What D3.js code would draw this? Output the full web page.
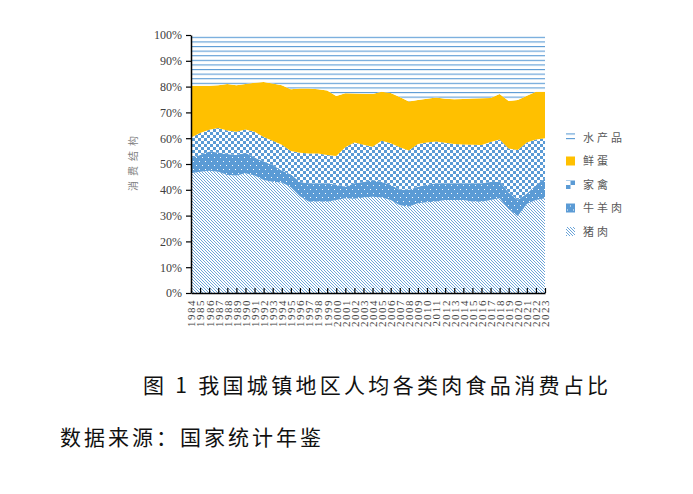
<!DOCTYPE html>
<html><head><meta charset="utf-8">
<script src="https://cdn.jsdelivr.net/npm/d3@7"></script>
<style>
html,body{margin:0;padding:0;background:#fff;}
svg{display:block;}
</style></head>
<body>
<svg id="chart" width="693" height="494"></svg>
<script>
// ---- data (shares, %) ----
const years = d3.range(1984, 2024);
const seriesKeys = ["猪肉", "牛羊肉", "家禽", "鲜蛋", "水产品"];
const pork    = [46.4,47.0,47.4,47.0,45.7,45.5,46.4,45.5,43.8,43.1,42.8,41.0,37.5,35.4,35.5,35.4,36.0,36.7,36.5,37.0,37.3,37.0,36.0,34.0,33.5,34.8,35.2,35.5,36.0,36.0,36.0,35.5,35.4,36.0,36.7,32.5,29.8,34.5,36.0,36.7];
const beef    = [5.9,6.5,7.4,7.5,8.2,8.0,8.0,7.0,7.2,6.5,4.7,5.0,5.5,7.1,7.0,7.1,6.0,4.5,6.0,6.0,6.5,6.0,6.0,6.0,6.5,6.4,6.8,7.0,6.5,6.5,6.5,7.0,7.1,7.0,6.4,6.5,6.2,4.1,5.9,7.7];
const poultry = [8.0,8.5,8.5,9.5,9.1,9.0,9.0,10.0,9.5,9.4,10.0,9.0,11.4,11.6,11.6,11.0,11.1,15.3,15.8,14.5,12.9,16.0,16.0,16.5,15.2,16.6,16.3,16.2,15.7,15.3,15.1,15.0,14.9,15.5,16.4,17.0,19.4,19.7,17.6,15.6];
const eggs    = [20.0,18.3,17.0,16.5,18.0,18.0,17.6,19.0,21.3,22.2,23.0,24.0,24.9,25.2,24.9,25.0,23.3,20.9,19.0,19.7,20.4,19.0,19.5,19.5,19.0,17.0,17.0,17.1,17.1,17.3,17.6,17.9,18.1,17.1,17.6,18.4,19.4,18.2,18.5,18.0];
const aquatic = [19.7,19.7,19.7,19.5,19.0,19.5,19.0,18.5,18.2,18.8,19.5,21.0,20.7,20.7,21.0,21.5,23.6,22.6,22.7,22.8,22.9,22.0,22.5,24.0,25.8,25.2,24.7,24.2,24.7,24.9,24.8,24.6,24.5,24.4,22.9,25.6,25.2,23.5,22.0,22.0];
const yTicks = d3.range(0, 11).map(d => d / 10);
const legendOrder = ["水产品", "鲜蛋", "家禽", "牛羊肉", "猪肉"];
const titleText = "图 1  我国城镇地区人均各类肉食品消费占比";
const sourceText = "数据来源：国家统计年鉴";
const yTitle = "消费结构";

const table = years.map((y, i) => ({
  year: y, "猪肉": pork[i], "牛羊肉": beef[i], "家禽": poultry[i], "鲜蛋": eggs[i], "水产品": aquatic[i]
}));

const BLUE = "#5b9bd5", ORANGE = "#ffc000";
const svg = d3.select("#chart");
const defs = svg.append("defs");

// pork: diagonal hatch
const pPork = defs.append("pattern").attr("id", "p-pork").attr("patternUnits", "userSpaceOnUse")
  .attr("width", 3).attr("height", 3);
pPork.append("rect").attr("width", 3).attr("height", 3).attr("fill", "#fff");
pPork.append("path").attr("d", "M-1,-1L4,4M2,-1L4,1M-1,2L1,4").attr("stroke", BLUE).attr("stroke-width", 0.9);

// beef: solid with white dots
const pBeef = defs.append("pattern").attr("id", "p-beef").attr("patternUnits", "userSpaceOnUse")
  .attr("width", 6).attr("height", 8);
pBeef.append("rect").attr("width", 6).attr("height", 8).attr("fill", BLUE);
pBeef.append("rect").attr("x", 1).attr("y", 1).attr("width", 1).attr("height", 1).attr("fill", "#fff");
pBeef.append("rect").attr("x", 4).attr("y", 5).attr("width", 1).attr("height", 1).attr("fill", "#fff");

// poultry: checkerboard
function checker(id, s) {
  const p = defs.append("pattern").attr("id", id).attr("patternUnits", "userSpaceOnUse")
    .attr("width", 2 * s).attr("height", 2 * s);
  p.append("rect").attr("width", 2 * s).attr("height", 2 * s).attr("fill", "#fff");
  p.append("rect").attr("width", s).attr("height", s).attr("fill", BLUE);
  p.append("rect").attr("x", s).attr("y", s).attr("width", s).attr("height", s).attr("fill", BLUE);
}
checker("p-poultry", 3);

// aquatic: horizontal lines
const pAq = defs.append("pattern").attr("id", "p-aq").attr("patternUnits", "userSpaceOnUse")
  .attr("width", 10).attr("height", 4.6);
pAq.append("rect").attr("width", 10).attr("height", 4.6).attr("fill", "#fff");
pAq.append("rect").attr("y", 0).attr("width", 10).attr("height", 1.1).attr("fill", BLUE);

const fills = { "猪肉": "url(#p-pork)", "牛羊肉": "url(#p-beef)", "家禽": "url(#p-poultry)", "鲜蛋": ORANGE, "水产品": "url(#p-aq)" };

const x = d3.scaleLinear().domain([1984, 2023]).range([191, 545]);
const y = d3.scaleLinear().domain([0, 1]).range([293, 35]);

const stack = d3.stack().keys(seriesKeys).offset(d3.stackOffsetExpand);
const layers = stack(table);
const area = d3.area().x(d => x(d.data.year)).y0(d => y(d[0])).y1(d => y(d[1]));

svg.append("g").selectAll("path").data(layers).join("path")
  .attr("d", area).attr("fill", d => fills[d.key]);

// left axis
const gy = svg.append("g").attr("transform", "translate(191,0)")
  .call(d3.axisLeft(y).tickValues(yTicks).tickFormat(d3.format(".0%")).tickSize(5).tickSizeOuter(0));
gy.select(".domain").attr("stroke", "#000").attr("stroke-width", 1.5);
gy.selectAll(".tick line").attr("stroke", "#000").attr("stroke-width", 1.2);
gy.selectAll("text").attr("font-family", "Liberation Serif, serif").attr("font-size", 12)
  .attr("fill", "#404040").attr("x", -9);

// bottom axis
const gx = svg.append("g").attr("transform", "translate(0,293)")
  .call(d3.axisBottom(x).tickValues(years).tickFormat(d3.format("d")).tickSizeInner(-5).tickSizeOuter(0));
gx.select(".domain").attr("stroke", "#000").attr("stroke-width", 1.5);
gx.selectAll(".tick line").attr("stroke", "#000").attr("stroke-width", 1.2);
gx.selectAll("text").attr("font-family", "Liberation Serif, serif").attr("font-size", 11)
  .attr("fill", "#404040").attr("transform", "rotate(-90)")
  .attr("text-anchor", "end").attr("x", -6).attr("y", 0).attr("dy", "0.35em")
  .attr("letter-spacing", 1.5);

// y title
svg.append("text").attr("transform", "translate(137,161) rotate(-90)")
  .attr("text-anchor", "middle").attr("font-family", "Noto Sans CJK SC").attr("font-size", 10)
  .attr("letter-spacing", 5).attr("fill", "#7f7f7f").text(yTitle);

// legend
checker("p-leg-poultry", 4.5);
const legFill = { "猪肉": "url(#p-pork)", "牛羊肉": "url(#p-beef)", "家禽": "url(#p-leg-poultry)", "鲜蛋": ORANGE, "水产品": "url(#p-aq)" };
const leg = svg.append("g").selectAll("g").data(legendOrder).join("g")
  .attr("transform", (d, i) => `translate(566,${138 + i * 23.5})`);
leg.append("rect").attr("x", 0).attr("y", -5).attr("width", 9).attr("height", 9).attr("fill", d => legFill[d]);
leg.append("text").attr("x", 17).attr("y", 0).attr("dy", "0.35em")
  .attr("font-family", "Noto Sans CJK SC").attr("font-size", 11).attr("letter-spacing", 3)
  .attr("fill", "#595959").text(d => d);

// title & source
svg.append("text").attr("x", 143).attr("y", 393).attr("font-family", "Noto Sans CJK SC")
  .attr("font-size", 21).attr("letter-spacing", 3.3).attr("fill", "#111").text(titleText);
svg.append("text").attr("x", 60).attr("y", 445).attr("font-family", "Noto Sans CJK SC")
  .attr("font-size", 21).attr("letter-spacing", 3).attr("fill", "#111").text(sourceText);
</script>
</body></html>
